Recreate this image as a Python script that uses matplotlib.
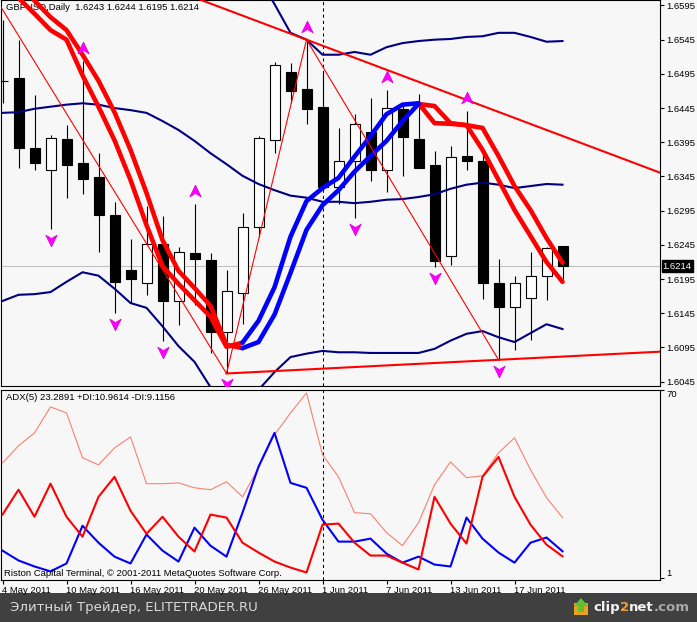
import matplotlib
matplotlib.use("Agg")
import matplotlib.pyplot as plt
import matplotlib.transforms as mtransforms
from matplotlib.patches import Rectangle, Polygon
from matplotlib.path import Path
from matplotlib.text import Annotation

plt.rcParams['font.family'] = ['Liberation Sans', 'DejaVu Sans']

# ---------------- data ----------------
symbol_title = "GBPUSD,Daily  1.6243 1.6244 1.6195 1.6214"
adx_title = "ADX(5) 23.2891 +DI:10.9614 -DI:9.1156"
footer_text = "Riston Capital Terminal, \u00a9 2001-2011 MetaQuotes Software Corp."
watermark = "Элитный Трейдер, ELITETRADER.RU"

dates = ["4 May 2011", "5 May 2011", "6 May 2011", "9 May 2011", "10 May 2011",
         "11 May 2011", "12 May 2011", "13 May 2011", "16 May 2011", "17 May 2011",
         "18 May 2011", "19 May 2011", "20 May 2011", "23 May 2011", "24 May 2011",
         "25 May 2011", "26 May 2011", "27 May 2011", "30 May 2011", "31 May 2011",
         "1 Jun 2011", "2 Jun 2011", "3 Jun 2011", "6 Jun 2011", "7 Jun 2011",
         "8 Jun 2011", "9 Jun 2011", "10 Jun 2011", "13 Jun 2011", "14 Jun 2011",
         "15 Jun 2011", "16 Jun 2011", "17 Jun 2011", "20 Jun 2011", "21 Jun 2011",
         "22 Jun 2011"]
date_tick_idx = [0, 4, 8, 12, 16, 20, 24, 28, 32]

opens = [1.6485, 1.6489, 1.6387, 1.6354, 1.6400, 1.6365, 1.6344, 1.6289, 1.6208, 1.6189,
         1.6247, 1.6163, 1.6233, 1.6223, 1.6118, 1.6175, 1.6271, 1.6399, 1.6498, 1.6473,
         1.6446, 1.6329, 1.6368, 1.6410, 1.6354, 1.6444, 1.6400, 1.6362, 1.6229, 1.6375,
         1.6368, 1.6189, 1.6154, 1.6167, 1.6199, 1.6243]
highs = [1.6574, 1.6544, 1.6464, 1.6406, 1.6420, 1.6514, 1.6379, 1.6308, 1.6254, 1.6302,
         1.6287, 1.6242, 1.6305, 1.6233, 1.6208, 1.6291, 1.6404, 1.6513, 1.6511, 1.6545,
         1.6498, 1.6416, 1.6437, 1.6460, 1.6471, 1.6451, 1.6465, 1.6382, 1.6390, 1.6441,
         1.6384, 1.6224, 1.6199, 1.6234, 1.6242, 1.6244]
lows = [1.6452, 1.6357, 1.6354, 1.6268, 1.6314, 1.6320, 1.6234, 1.6145, 1.6160, 1.6172,
        1.6104, 1.6128, 1.6157, 1.6087, 1.6057, 1.6130, 1.6257, 1.6379, 1.6452, 1.6422,
        1.6325, 1.6305, 1.6285, 1.6339, 1.6323, 1.6346, 1.6357, 1.6212, 1.6215, 1.6354,
        1.6166, 1.6077, 1.6091, 1.6106, 1.6165, 1.6195]
closes = [1.6485, 1.6386, 1.6364, 1.6401, 1.6362, 1.6342, 1.6288, 1.6191, 1.6195, 1.6247,
          1.6163, 1.6234, 1.6225, 1.6118, 1.6178, 1.6271, 1.6401, 1.6508, 1.6470, 1.6444,
          1.6330, 1.6367, 1.6422, 1.6354, 1.6445, 1.6402, 1.6358, 1.6221, 1.6373, 1.6367,
          1.6190, 1.6154, 1.6190, 1.6200, 1.6241, 1.6214]
last_price = 1.6214

band_upper = [1.6713, 1.6707, 1.6714, 1.6717, 1.6708, 1.6700, 1.6700, 1.6710, 1.6724, 1.6723,
              1.6726, 1.6729, 1.6720, 1.6722, 1.6716, 1.6688, 1.6635, 1.6597, 1.6555, 1.6545,
              1.6523, 1.6523, 1.6527, 1.6523, 1.6534, 1.6540, 1.6543, 1.6545, 1.6546, 1.6549,
              1.6550, 1.6555, 1.6555, 1.6549, 1.6542, 1.6543]
band_middle = [1.6438, 1.6439, 1.6444, 1.6447, 1.6450, 1.6452, 1.6450, 1.6445, 1.6442, 1.6438,
               1.6426, 1.6413, 1.6397, 1.6379, 1.6363, 1.6346, 1.6334, 1.6325, 1.6317, 1.6314,
               1.6308, 1.6308, 1.6306, 1.6308, 1.6311, 1.6312, 1.6315, 1.6319, 1.6327, 1.6333,
               1.6336, 1.6333, 1.6328, 1.6331, 1.6334, 1.6333]
band_lower = [1.6163, 1.6172, 1.6173, 1.6176, 1.6191, 1.6205, 1.6200, 1.6181, 1.6160, 1.6153,
              1.6126, 1.6097, 1.6074, 1.6037, 1.6011, 1.6004, 1.6033, 1.6059, 1.6081, 1.6086,
              1.6090, 1.6088, 1.6088, 1.6087, 1.6087, 1.6087, 1.6087, 1.6093, 1.6105, 1.6115,
              1.6119, 1.6110, 1.6103, 1.6116, 1.6129, 1.6122]

ma_slow = [1.6669, 1.6632, 1.6602, 1.6578, 1.6559, 1.6523, 1.6485, 1.6439, 1.6384, 1.6321,
           1.6252, 1.6207, 1.6182, 1.6156, 1.6099, 1.6094, 1.6103, 1.6143, 1.6204, 1.6267,
           1.6303, 1.6325, 1.6352, 1.6375, 1.6397, 1.6426, 1.6451, 1.6448, 1.6423, 1.6420,
           1.6416, 1.6375, 1.6331, 1.6296, 1.6255, 1.6219]
ma_fast = [1.6640, 1.6606, 1.6583, 1.6559, 1.6545, 1.6493, 1.6447, 1.6398, 1.6340, 1.6274,
           1.6214, 1.6188, 1.6164, 1.6140, 1.6096, 1.6102, 1.6134, 1.6183, 1.6257, 1.6309,
           1.6328, 1.6343, 1.6374, 1.6404, 1.6436, 1.6450, 1.6452, 1.6423, 1.6422, 1.6420,
           1.6384, 1.6340, 1.6296, 1.6258, 1.6220, 1.6191]
rise_start, rise_end = 15, 26

zigzag_idx = [-1, 14, 19, 31]
zigzag_px = [1.6627, 1.6057, 1.6545, 1.6077]
trend_hi_idx = [19, 29]
trend_hi_px = [1.6545, 1.6457]
trend_lo_idx = [14, 31]
trend_lo_px = [1.6057, 1.6077]

fractal_up = [5, 12, 19, 24, 29]
fractal_down = [3, 7, 10, 14, 22, 27, 31]
separator_idx = 20

price_ticks = [1.6595, 1.6545, 1.6495, 1.6445, 1.6395, 1.6345, 1.6295, 1.6245,
               1.6195, 1.6145, 1.6095, 1.6045]

adx = [43.3, 49.6, 54.3, 63.8, 61.6, 45.2, 42.6, 48.8, 52.8, 35.7,
       35.7, 36.0, 34.2, 33.5, 36.4, 30.9, 41.5, 53.6, 61.6, 68.9,
       46.3, 38.2, 25.1, 24.7, 17.8, 13.0, 21.4, 35.3, 43.7, 37.9,
       38.6, 47.0, 52.5, 40.8, 30.6, 23.29]
plus_di = [11.2, 7.6, 5.4, 3.6, 6.5, 20.3, 14.1, 9.0, 6.5, 17.1,
           11.2, 7.2, 19.6, 13.0, 9.0, 25.1, 41.9, 54.3, 36.0, 34.2,
           22.5, 14.5, 14.5, 15.6, 10.1, 6.8, 9.0, 6.1, 5.4, 23.3,
           15.6, 10.5, 6.8, 14.1, 16.0, 10.96]
minus_di = [24.4, 33.5, 23.6, 35.7, 23.6, 16.3, 30.9, 38.2, 25.8, 17.4,
            23.6, 16.3, 10.9, 24.4, 23.3, 14.1, 10.5, 7.2, 5.0, 3.2,
            20.7, 21.1, 14.1, 9.4, 9.4, 6.8, 4.3, 30.9, 21.1, 13.8,
            38.2, 45.5, 30.9, 20.7, 13.4, 9.12]
adx_ticks = [70, 1]

# ---------------- layout ----------------
W, H = 697, 622
BG = '#F7F7F7'
fig = plt.figure(figsize=(W / 100, H / 100), dpi=100)
fig.patch.set_facecolor(BG)


def fx(px):
    return px / W


def fy(py):
    return 1 - py / H


left_px, right_px = 1, 660
ax = fig.add_axes([fx(left_px), fy(386), fx(right_px) - fx(left_px), fy(0) - fy(386)])
ax2 = fig.add_axes([fx(left_px), fy(580), fx(right_px) - fx(left_px), fy(389.5) - fy(580)])

xlim = ((left_px - 2.5) / 16, (right_px - 2.5) / 16)
for a in (ax, ax2):
    a.set_facecolor(BG)
    a.set_xlim(*xlim)
    for s in a.spines.values():
        s.set_color('black')
        s.set_linewidth(0.8)

ax.set_ylim(1.60387, 1.66030)
ax2.set_ylim(0.45, 70.18)

FS = 6.8
ax.set_yticks(price_ticks)
ax.set_yticklabels([f"{p:.4f}" for p in price_ticks])
ax.tick_params(axis='y', which='both', direction='out', length=3, width=0.8, pad=1.5,
               labelsize=FS, left=False, labelleft=False, right=True, labelright=True)
ax.set_xticks([])

# ---------------- main panel ----------------
n = len(opens)
idx = list(range(n))

ax.axhline(last_price, color='#C0C0C0', lw=0.75, zorder=1)

for i in idx:
    o, h, l, c = opens[i], highs[i], lows[i], closes[i]
    ax.vlines(i, l, h, color='black', lw=0.8, zorder=2)
    fc = 'black' if c < o else 'white'
    ax.add_patch(Rectangle((i - 0.3125, min(o, c)), 0.625, abs(c - o),
                           facecolor=fc, edgecolor='black', lw=0.8, zorder=2.1))

ax.text(fx(6), fy(8), symbol_title, transform=fig.transFigure, fontsize=FS,
        va='center', ha='left', color='black', zorder=1.5)

for band in (band_upper, band_middle, band_lower):
    ax.plot(idx, band, color='#000080', lw=1.5, zorder=3)

for series in (ma_slow, ma_fast):
    ax.plot(idx[:rise_start + 1], series[:rise_start + 1], color='#FF0000', lw=3.3,
            solid_joinstyle='round', solid_capstyle='round', zorder=4)
    ax.plot(idx[rise_end:], series[rise_end:], color='#FF0000', lw=3.3,
            solid_joinstyle='round', solid_capstyle='round', zorder=4)
    ax.plot(idx[rise_start:rise_end + 1], series[rise_start:rise_end + 1], color='#0000FF',
            lw=3.3, solid_joinstyle='round', solid_capstyle='round', zorder=4.1)

ax.plot(zigzag_idx, zigzag_px, color='#FF0000', lw=0.8, zorder=4.5)

ax.axline((trend_hi_idx[0], trend_hi_px[0]), (trend_hi_idx[1], trend_hi_px[1]),
          color='#FF0000', lw=1.5, zorder=4.5)
slope_lo = (trend_lo_px[1] - trend_lo_px[0]) / (trend_lo_idx[1] - trend_lo_idx[0])
x_far = xlim[1] + 1
ax.plot([trend_lo_idx[0], x_far],
        [trend_lo_px[0], trend_lo_px[0] + slope_lo * (x_far - trend_lo_idx[0])],
        color='#FF0000', lw=1.5, zorder=4.5)

# fractal arrows (notched arrowheads)
up_path = Path([(0, 1), (0.9, -0.85), (0, -0.3), (-0.9, -0.85), (0, 1)],
               [Path.MOVETO, Path.LINETO, Path.LINETO, Path.LINETO, Path.CLOSEPOLY])
dn_path = Path([(0, -1), (0.9, 0.85), (0, 0.3), (-0.9, 0.85), (0, -1)],
               [Path.MOVETO, Path.LINETO, Path.LINETO, Path.LINETO, Path.CLOSEPOLY])
tr_up = mtransforms.offset_copy(ax.transData, fig=fig, x=0, y=13, units='dots')
tr_dn = mtransforms.offset_copy(ax.transData, fig=fig, x=0, y=-11, units='dots')
ax.plot(fractal_up, [highs[i] for i in fractal_up], ls='none', marker=up_path, ms=9,
        mfc='#FF00FF', mec='#E000E0', mew=0.6, transform=tr_up, zorder=5)
ax.plot(fractal_down, [lows[i] for i in fractal_down], ls='none', marker=dn_path, ms=9,
        mfc='#FF00FF', mec='#E000E0', mew=0.6, transform=tr_dn, zorder=5)

for a in (ax, ax2):
    a.axvline(separator_idx, color='black', lw=0.75, ls=(0, (3, 3)), zorder=1.2)

blend = mtransforms.blended_transform_factory(ax.transAxes, ax.transData)
ax.text(1.004, last_price, f"{last_price:.4f}", transform=blend, color='white',
        fontsize=FS, va='center', ha='left', zorder=10, clip_on=False,
        bbox=dict(facecolor='black', edgecolor='black', pad=0.8))

# ---------------- ADX panel ----------------
ax2.plot(idx, adx, color='#FA8072', lw=0.8, zorder=3)
ax2.plot(idx, plus_di, color='#0000FF', lw=1.5, zorder=3.1)
ax2.plot(idx, minus_di, color='#FF0000', lw=1.5, zorder=3.2)

ax2.text(fx(6), fy(398), adx_title, transform=fig.transFigure, fontsize=FS,
         va='center', ha='left', color='black', zorder=6)
ax2.text(fx(4), fy(573), footer_text, transform=fig.transFigure, fontsize=FS,
         va='center', ha='left', color='black', zorder=6)

ax2.set_yticks(adx_ticks)
ax2.set_yticklabels([str(t) for t in adx_ticks])
ax2.tick_params(axis='y', direction='out', length=3, width=0.8, pad=1.5, labelsize=FS,
                left=False, labelleft=False, right=True, labelright=True)
ylabels = ax2.get_yticklabels()
ylabels[0].set_va('top')
ylabels[1].set_va('bottom')

ax2.set_xticks(date_tick_idx)
ax2.set_xticklabels([dates[i] for i in date_tick_idx])
ax2.tick_params(axis='x', direction='out', length=3, width=0.8, pad=1.5, labelsize=FS)
for lbl in ax2.get_xticklabels():
    lbl.set_ha('left')

# ---------------- bottom bar ----------------
fig.add_artist(Rectangle((0, 0), 1, fy(593), transform=fig.transFigure,
                         facecolor='#404040', edgecolor='none', zorder=0))
fig.text(fx(10), fy(607.5), watermark, color='#D8D8D8', fontsize=9.6,
         family='DejaVu Sans', va='center', ha='left')

fig.add_artist(Rectangle((fx(574), fy(615)), fx(14), fy(603) - fy(615),
                         transform=fig.transFigure, facecolor='#E8A020',
                         edgecolor='none', zorder=2))
fig.add_artist(Polygon([(fx(581), fy(598)), (fx(588), fy(606)), (fx(584), fy(606)),
                        (fx(584), fy(612)), (fx(578), fy(612)), (fx(578), fy(606)),
                        (fx(574), fy(606))], closed=True, transform=fig.transFigure,
                       facecolor='#60C030', edgecolor='none', zorder=3))
t1 = fig.text(fx(593), fy(614), 'clip', color='#F4F4F4', fontsize=9.5,
              fontweight='bold', family='DejaVu Sans', va='bottom', ha='left')
prev = t1
for piece, col in (('2', '#F0A030'), ('net', '#F4F4F4'), ('.com', '#A8A8A8')):
    ann = Annotation(piece, xy=(1, 0), xycoords=prev, va='bottom', ha='left',
                     color=col, fontsize=9.5, fontweight='bold', family='DejaVu Sans')
    fig.add_artist(ann)
    prev = ann

fig.savefig('out.png', dpi=100, facecolor=fig.get_facecolor())
